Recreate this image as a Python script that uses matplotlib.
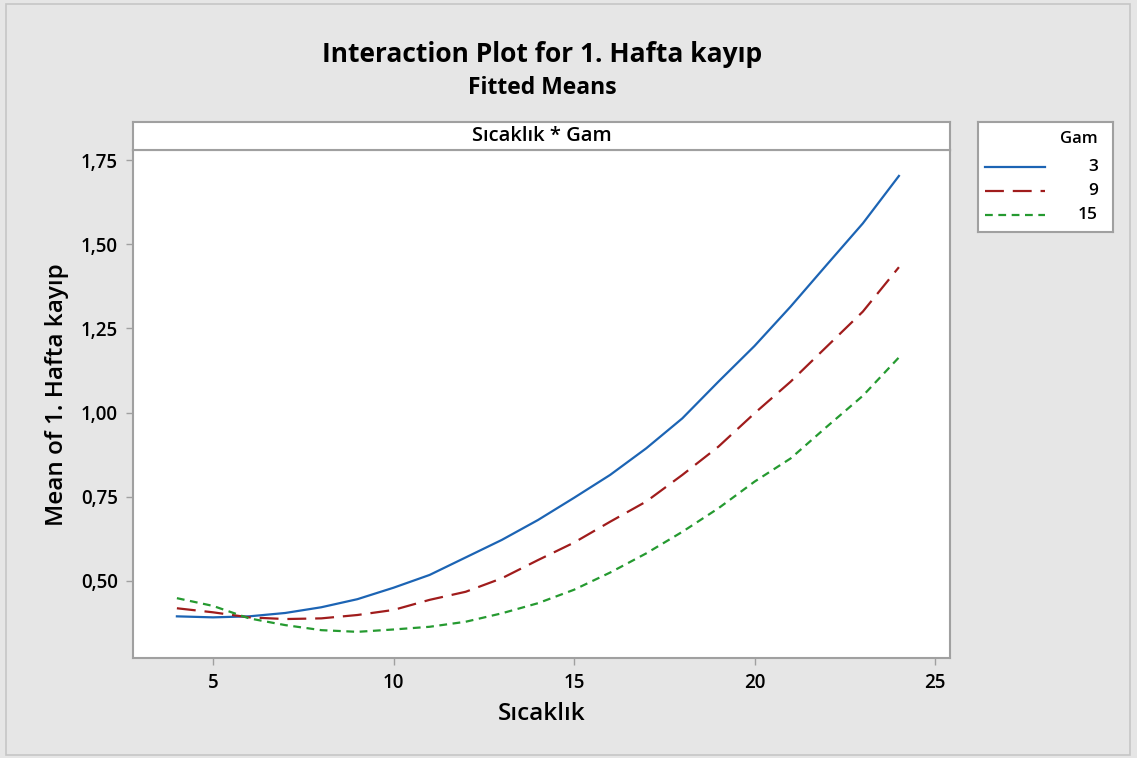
import matplotlib.pyplot as plt
import matplotlib.patches as mpatches
from matplotlib.ticker import FuncFormatter

# fitted means
sicaklik = [4, 5, 6, 7, 8, 9, 10, 11, 12, 13, 14, 15, 16, 17, 18, 19, 20, 21, 22, 23, 24]
gam_3 = [0.395, 0.392, 0.395, 0.405, 0.422, 0.446, 0.480, 0.518, 0.570, 0.622, 0.681, 0.747,
         0.815, 0.894, 0.983, 1.092, 1.198, 1.315, 1.439, 1.562, 1.703]
gam_9 = [0.419, 0.407, 0.392, 0.387, 0.389, 0.399, 0.414, 0.444, 0.468, 0.508, 0.562, 0.614,
         0.676, 0.736, 0.815, 0.899, 0.998, 1.092, 1.196, 1.300, 1.432]
gam_15 = [0.449, 0.426, 0.389, 0.369, 0.354, 0.349, 0.356, 0.364, 0.379, 0.404, 0.434, 0.474,
          0.525, 0.582, 0.646, 0.716, 0.795, 0.864, 0.958, 1.050, 1.164]
gam_labels = ['3', '9', '15']
xticks = [5, 10, 15, 20, 25]
yticks = [0.50, 0.75, 1.00, 1.25, 1.50, 1.75]

plt.rcParams['font.family'] = ['Open Sans', 'DejaVu Sans']

W, H = 1137, 758
fig = plt.figure(figsize=(W / 100, H / 100), dpi=100)
fig.patch.set_facecolor('#e6e6e6')
fig.patches.append(mpatches.Rectangle((6 / W, 3 / H), 1124 / W, 751 / H, transform=fig.transFigure,
                                      fill=False, edgecolor='#c6c6c6', linewidth=1.2))

def fx(px):
    return px / W

def fy(py):
    return 1 - py / H

frame_col = '#a0a0a0'
styles = [dict(color='#1c64b4', linestyle='-'),
          dict(color='#a01c1c', linestyle=(0, (8.5, 4))),
          dict(color='#259a30', linestyle=(0, (3.5, 2.5)))]

# main plot
ax = fig.add_axes([fx(133), fy(658), fx(950 - 133), (658 - 150) / H])
for ys, st in zip([gam_3, gam_9, gam_15], styles):
    ax.plot(sicaklik, ys, linewidth=1.6, **st)
ax.set_xlim(2.784, 25.415)
ax.set_ylim(0.2713, 1.780)
ax.set_xticks(xticks)
ax.set_yticks(yticks)
ax.yaxis.set_major_formatter(FuncFormatter(lambda v, _: f"{v:.2f}".replace('.', ',')))
for s in ax.spines.values():
    s.set_color(frame_col)
    s.set_linewidth(1.5)
ax.tick_params(color=frame_col, length=5, width=1, labelsize=13.5, pad=6)
for lab in ax.get_xticklabels() + ax.get_yticklabels():
    lab.set_fontweight('semibold')
ax.set_xlabel('Sıcaklık', fontsize=17.5, fontweight='semibold', labelpad=6)
ax.set_ylabel('Mean of 1. Hafta kayıp', fontsize=17.5, fontweight='semibold', labelpad=10)
ax.yaxis.set_label_coords(-0.078, 0.518)

# header strip
hx = fig.add_axes([fx(133), fy(150), fx(950 - 133), 28 / H])
hx.set_xticks([])
hx.set_yticks([])
for s in hx.spines.values():
    s.set_color(frame_col)
    s.set_linewidth(1.5)
hx.text(0.5, 0.5, 'Sıcaklık * Gam', ha='center', va='center', fontsize=14.5, fontweight='semibold',
        transform=hx.transAxes)

# titles
fig.text(fx(542), fy(55), 'Interaction Plot for 1. Hafta kayıp', ha='center', va='center',
         fontsize=19, fontweight='bold')
fig.text(fx(542), fy(88), 'Fitted Means', ha='center', va='center', fontsize=16.5,
         fontweight='bold')

# legend box
lx = fig.add_axes([fx(978), fy(232), fx(135), 110 / H])
lx.set_xlim(0, 135)
lx.set_ylim(110, 0)
lx.set_xticks([])
lx.set_yticks([])
for s in lx.spines.values():
    s.set_color(frame_col)
    s.set_linewidth(1.5)
lx.text(120, 17, 'Gam', ha='right', va='center', fontsize=12, fontweight='semibold')
for i, (lab, st) in enumerate(zip(gam_labels, styles)):
    yy = 45 + i * 24
    lx.plot([7, 67], [yy, yy], linewidth=1.6, **st)
    lx.text(120, yy, lab, ha='right', va='center', fontsize=12.5, fontweight='semibold')

fig.savefig('out.png', dpi=100, facecolor=fig.get_facecolor())
